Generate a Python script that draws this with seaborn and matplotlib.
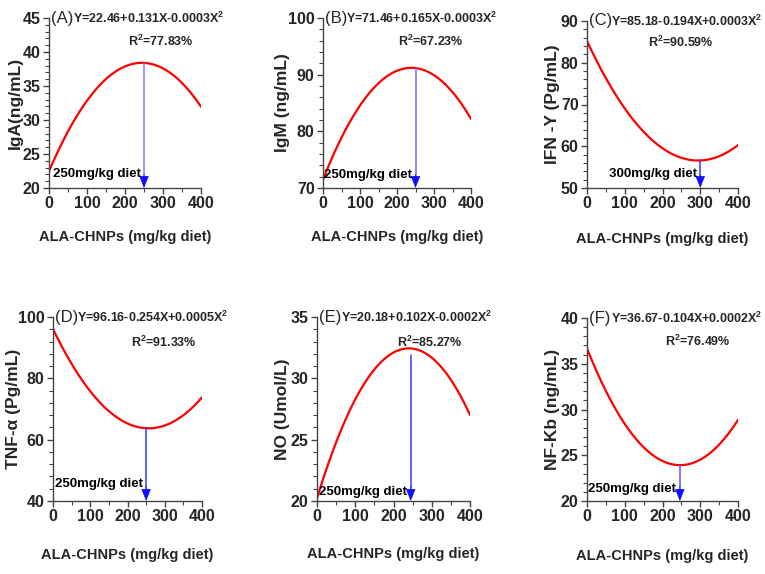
import numpy as np
import pandas as pd
import seaborn as sns
import matplotlib.pyplot as plt
from matplotlib.ticker import MultipleLocator, AutoMinorLocator

dose = [0, 50, 100, 150, 200, 250, 300, 350, 400]

iga = [22.5, 28.3, 32.8, 36.0, 37.9, 38.4, 37.6, 35.5, 31.9]
igm = [71.5, 78.9, 84.5, 88.5, 90.7, 91.2, 89.9, 86.9, 82.2]
ifn = [85.2, 76.3, 69.1, 63.5, 59.5, 57.2, 56.6, 57.6, 60.3]
tnf = [96.1, 84.7, 75.8, 69.3, 65.3, 63.7, 64.6, 68.0, 73.8]
no = [20.2, 24.8, 28.3, 30.7, 32.1, 32.4, 31.7, 29.9, 27.0]
nfkb = [36.7, 32.0, 28.4, 25.9, 24.4, 23.9, 24.5, 26.2, 28.85]

series = [iga, igm, ifn, tnf, no, nfkb]
panel_tags = ["(A)", "(B)", "(C)", "(D)", "(E)", "(F)"]
ylabels = ["IgA(ng/mL)", "IgM (ng/mL)", "IFN -Y (Pg/mL)",
           "TNF-α (Pg/mL)", "NO (Umol/L)", "NF-Kb (ng/mL)"]
equations = ["Y=22.46+0.131X-0.0003X$^\\mathbf{2}$", "Y=71.46+0.165X-0.0003X$^\\mathbf{2}$",
             "Y=85.18-0.194X+0.0003X$^\\mathbf{2}$", "Y=96.16-0.254X+0.0005X$^\\mathbf{2}$",
             "Y=20.18+0.102X-0.0002X$^\\mathbf{2}$", "Y=36.67-0.104X+0.0002X$^\\mathbf{2}$"]
r2_labels = ["R$^\\mathbf{2}$=77.83%", "R$^\\mathbf{2}$=67.23%", "R$^\\mathbf{2}$=90.59%",
             "R$^\\mathbf{2}$=91.33%", "R$^\\mathbf{2}$=85.27%", "R$^\\mathbf{2}$=76.49%"]
opt_dose = [250, 250, 300, 250, 245, 246]
opt_value = [38.4, 91.2, 56.6, 63.7, 31.9, 23.9]
opt_labels = ["250mg/kg diet", "250mg/kg diet", "300mg/kg diet",
              "250mg/kg diet", "250mg/kg diet", "250mg/kg diet"]
y_limits = [(20, 45), (70, 100), (50, 90), (40, 100), (20, 35), (20, 40)]
y_steps = [5, 10, 10, 20, 5, 5]

# --- layout (pixels of a 765x574 figure) ---
W, H = 765, 574
boxes = [(49, 18, 201, 188), (323, 18, 471, 188), (587, 21, 738, 188),
         (53, 317, 202, 501), (317, 317, 470, 501), (587, 318, 738, 501)]
note_y = [0.082, 0.076, 0.085, 0.091, 0.047, 0.064]
r2_x = [0.52, 0.507, 0.404, 0.523, 0.523, 0.517]
r2_y = [0.86, 0.86, 0.874, 0.864, 0.864, 0.87]
ylab_off = [34, 41, 35, 39, 34, 35]
xlab_off = [49, 49, 51, 54, 53, 55]
arrow_line = ["#8080ff", "#6a6aff", "#3a3aff", "#3a3aff", "#3a3aff", "#5a5aff"]

sns.set_style("ticks")
arial = ["Liberation Sans", "DejaVu Sans"]
plt.rcParams["font.family"] = arial
plt.rcParams["mathtext.fontset"] = "custom"
plt.rcParams["mathtext.rm"] = "Liberation Sans:bold"
plt.rcParams["mathtext.bf"] = "Liberation Sans:bold"
plt.rcParams["mathtext.default"] = "bf"

fig = plt.figure(figsize=(W / 100, H / 100), dpi=100)

for i in range(6):
    l, t, r, b = boxes[i]
    aw, ah = r - l, b - t
    ax = fig.add_axes([l / W, 1 - b / H, aw / W, ah / H])
    df = pd.DataFrame({"dose": dose, "val": series[i]})
    sns.regplot(data=df, x="dose", y="val", order=2, ci=None, scatter=False,
                line_kws=dict(color="red", lw=1.6), ax=ax)

    # arrow to the optimum dose
    y0 = y_limits[i][0]
    ax.plot([opt_dose[i], opt_dose[i]], [opt_value[i], y0 + 0.04 * (y_limits[i][1] - y0)],
            color=arrow_line[i], lw=1.1)
    ax.annotate("", xy=(opt_dose[i], y0), xytext=(opt_dose[i], y0 + 0.08 * (y_limits[i][1] - y0)),
                arrowprops=dict(arrowstyle="-|>,head_length=0.55,head_width=0.22",
                                color="#1010ff", lw=0.5, shrinkA=0, shrinkB=0,
                                mutation_scale=14))
    ax.text(opt_dose[i] - 9, y0 + note_y[i] * (y_limits[i][1] - y0),
            opt_labels[i], ha="right", va="center", fontsize=9.5, fontweight="bold",
            color="black")

    # panel tag, equation and R2
    ax.text(0.015, 1.0, panel_tags[i], transform=ax.transAxes, ha="left", va="center",
            fontsize=12, clip_on=False)
    ax.text(0.158, 1.0, equations[i], transform=ax.transAxes, ha="left", va="center",
            fontsize=9, fontweight="bold", clip_on=False)
    ax.text(r2_x[i], r2_y[i], r2_labels[i], transform=ax.transAxes, ha="left", va="center",
            fontsize=9, fontweight="bold")

    ax.set_xlim(0, 400)
    ax.set_ylim(*y_limits[i])
    ax.xaxis.set_major_locator(MultipleLocator(100))
    ax.xaxis.set_minor_locator(AutoMinorLocator(2))
    ax.yaxis.set_major_locator(MultipleLocator(y_steps[i]))
    ax.yaxis.set_minor_locator(AutoMinorLocator(5))
    ax.tick_params(which="major", length=4, width=1, color="#444444", direction="out",
                   labelsize=11.5, pad=2)
    ax.tick_params(which="minor", length=3, width=0.8, color="#444444", direction="out")
    for lab in ax.get_xticklabels() + ax.get_yticklabels():
        lab.set_fontweight("bold")
    sns.despine(ax=ax)
    for s in ["left", "bottom"]:
        ax.spines[s].set_color("#444444")
        ax.spines[s].set_linewidth(1)

    ax.set_xlabel("ALA-CHNPs (mg/kg diet)", fontsize=10.5, fontweight="bold", va="center")
    ax.xaxis.set_label_coords(0.5, -xlab_off[i] / ah)
    ax.set_ylabel(ylabels[i], fontsize=12.5, fontweight="bold", va="center")
    ax.yaxis.set_label_coords(-ylab_off[i] / aw, 0.5)

fig.savefig("out.png", dpi=100)
